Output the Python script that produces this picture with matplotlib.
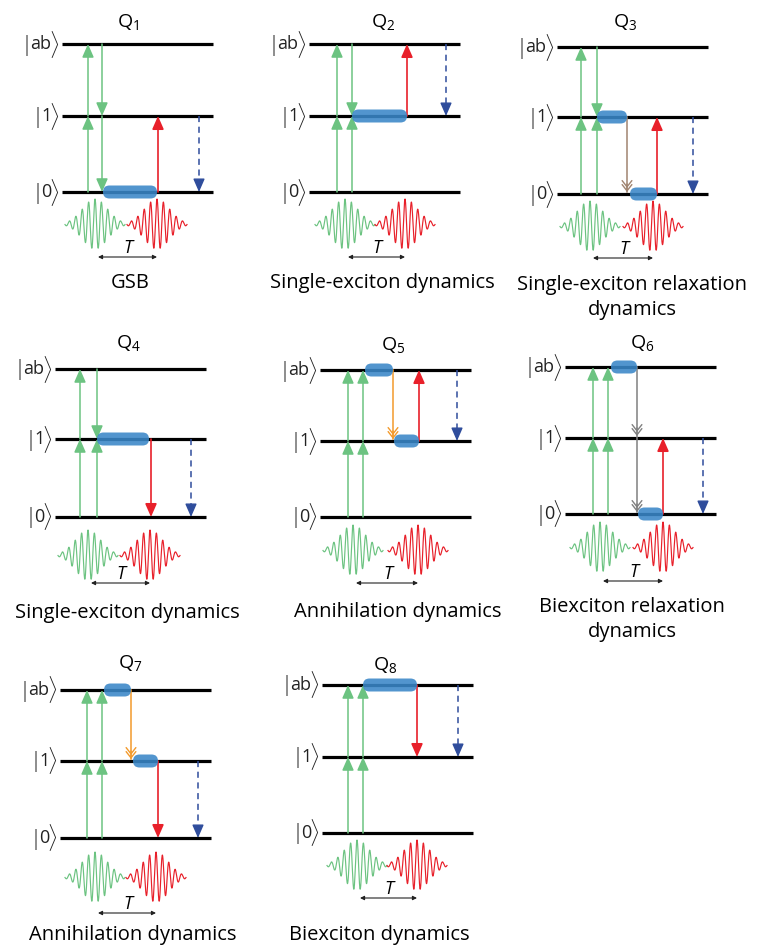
import numpy as np
import matplotlib
matplotlib.use('Agg')
import matplotlib.pyplot as plt
from matplotlib.patches import FancyArrowPatch, FancyBboxPatch, ArrowStyle

# ---------------- data ----------------
panel_names = ['1', '2', '3', '4', '5', '6', '7', '8']
level_names = ['ab', '1', '0']
level_labels = {'ab': 'ab', '1': '1', '0': '0'}

panel_x0 = [62, 309, 557, 55, 320, 565, 60, 322]
level_ab_y = [44, 44, 47, 369, 370, 367, 690, 685]
level_1_y = [116, 116, 117, 439, 441, 438, 761, 757]
level_0_y = [192, 192, 194, 517, 517, 514, 838, 833]
level_len = 151

title_x = [128, 383, 625, 128, 393, 642, 130, 385]
title_y = [22, 22, 22, 343, 345, 343, 663, 665]
pulse_y = [224, 224, 226, 555, 550, 547, 877, 865]
delay_y = [257, 257, 258, 583, 583, 581, 913, 898]
pump_dx = [33, 36, 33, 33, 33, 35, 35, 35]
probe_dx = [95, 96, 96, 95, 98, 98, 96, 95]

captions = [['GSB'], ['Single-exciton dynamics'],
            ['Single-exciton relaxation', 'dynamics'],
            ['Single-exciton dynamics'], ['Annihilation dynamics'],
            ['Biexciton relaxation', 'dynamics'],
            ['Annihilation dynamics'], ['Biexciton dynamics']]
caption_x = [130, 382, 632, 127, 398, 632, 133, 379]
caption_y = [283, 283, 285, 613, 612, 607, 935, 935]
caption_dy = 25

# pump (green) transitions: two vertical lines per panel
green_a_dx = [26, 28, 24, 25, 28, 28, 27, 26]
green_b_dx = [40, 43, 40, 42, 43, 43, 42, 41]
green_a = [[('0', '1'), ('1', 'ab')]] * 8
green_b = [[('ab', '1'), ('1', '0')],
           [('0', '1'), ('ab', '1')],
           [('0', '1'), ('ab', '1')],
           [('0', '1'), ('ab', '1')],
           [('0', '1'), ('1', 'ab')],
           [('0', '1'), ('1', 'ab')],
           [('0', '1'), ('1', 'ab')],
           [('0', '1'), ('1', 'ab')]]

# population (blue pills): (level, start dx, end dx)
pills = [[('0', 41, 95)],
         [('1', 43, 98)],
         [('1', 40, 70), ('0', 73, 100)],
         [('1', 42, 94)],
         [('ab', 45, 73), ('1', 74, 99)],
         [('ab', 46, 72), ('0', 73, 98)],
         [('ab', 44, 71), ('1', 73, 98)],
         [('ab', 41, 95)]]

# relaxation: (color, dx, from, to, chevron levels)
relax = [None, None,
         ('#a08470', 70, '1', '0', ['0']),
         None,
         ('#f39a2c', 73, 'ab', '1', ['1']),
         ('#808080', 72, 'ab', '0', ['1', '0']),
         ('#f39a2c', 71, 'ab', '1', ['1']),
         None]

# probe (red): (dx, from, to)
probe = [(96, '0', '1'), (98, '1', 'ab'), (100, '0', '1'), (96, '1', '0'),
         (99, '1', 'ab'), (98, '0', '1'), (98, '1', '0'), (95, 'ab', '1')]
# signal (blue dashed): (dx, from, to)
signal = [(137, '1', '0'), (137, 'ab', '1'), (136, '1', '0'), (136, '1', '0'),
          (137, 'ab', '1'), (138, '1', '0'), (138, '1', '0'), (136, 'ab', '1')]

# pulse shape parameters
pulse_halfwidth = 30
pulse_amp = 25
pulse_sigma = 12.5
pulse_period = 6.4

GREEN = '#6cc381'
RED = '#e8202a'
PILL = '#3a87c8'
DBLUE = '#2f4d9c'
LABEL_C = '#222222'

# ---------------- drawing ----------------
plt.rcParams['font.family'] = ['Open Sans', 'DejaVu Sans']
plt.rcParams['mathtext.fontset'] = 'custom'
plt.rcParams['mathtext.rm'] = 'Open Sans'
plt.rcParams['mathtext.it'] = 'Open Sans:italic'

fig = plt.figure(figsize=(7.57, 9.49), dpi=100)
ax = fig.add_axes([0, 0, 1, 1])
ax.set_xlim(0, 757)
ax.set_ylim(949, 0)
ax.axis('off')
renderer = fig.canvas.get_renderer()

head_style = ArrowStyle('-|>', head_length=0.8, head_width=0.35)
chev_style = ArrowStyle('->', head_length=0.45, head_width=0.35)


def arrow(x, y1, y2, color, lw=1.1, style=head_style, ms=10, z=3):
    a = FancyArrowPatch((x, y1), (x, y2), arrowstyle=style, mutation_scale=ms,
                        color=color, lw=lw, shrinkA=0, shrinkB=0, zorder=z)
    ax.add_patch(a)


def ket(xr, y, inner):
    t1 = ax.text(xr, y, r'$\rangle$', ha='right', va='center', fontsize=15.5,
                 color=LABEL_C)
    w1 = t1.get_window_extent(renderer).width
    t2 = ax.text(xr - w1 + 2.5, y, inner, ha='right', va='center', fontsize=13,
                 color=LABEL_C)
    w2 = t2.get_window_extent(renderer).width
    ax.text(xr - w1 - w2 + 4.5, y + 1, '|', ha='right', va='center',
            fontsize=16, color=LABEL_C, fontweight='light')


for i, name in enumerate(panel_names):
    x0 = panel_x0[i]
    ly = {'ab': level_ab_y[i], '1': level_1_y[i], '0': level_0_y[i]}
    # levels
    for ln in level_names:
        ax.plot([x0, x0 + level_len], [ly[ln], ly[ln]], color='black', lw=2.3,
                solid_capstyle='butt', zorder=2)
        ket(x0 - 3, ly[ln], level_labels[ln])
    # title
    ax.text(title_x[i], title_y[i], 'Q$_{' + name + '}$', ha='center',
            va='center', fontsize=14)
    # pump transitions
    for dx, segs in ((green_a_dx[i], green_a[i]), (green_b_dx[i], green_b[i])):
        for a, b in segs:
            arrow(x0 + dx, ly[a], ly[b], GREEN)
    # pills
    for ln, s, e in pills[i]:
        p = FancyBboxPatch((x0 + s, ly[ln] - 6.5), e - s, 13,
                           boxstyle='round,pad=0,rounding_size=6.5',
                           fc=PILL, ec='none', alpha=0.88, zorder=4)
        ax.add_patch(p)
    # relaxation
    if relax[i] is not None:
        col, dx, a, b, chev = relax[i]
        ax.plot([x0 + dx, x0 + dx], [ly[a], ly[b] - 2], color=col, lw=1.1, zorder=3)
        for c in chev:
            sgn = 1 if ly[c] > ly[a] else -1
            for off in (2, 6):
                arrow(x0 + dx, ly[c] - sgn * (off + 4), ly[c] - sgn * off, col,
                      lw=1.0, style=chev_style, ms=10)
    # probe
    dx, a, b = probe[i]
    arrow(x0 + dx, ly[a], ly[b], RED, lw=1.2)
    # signal (dashed)
    dx, a, b = signal[i]
    sgn = 1 if ly[b] > ly[a] else -1
    ax.plot([x0 + dx, x0 + dx], [ly[a], ly[b] - sgn * 7], color=DBLUE, lw=1.1,
            ls=(0, (4, 3)), zorder=3)
    arrow(x0 + dx, ly[b] - sgn * 8, ly[b], DBLUE, lw=1.0)
    # pulses
    t = np.linspace(-pulse_halfwidth, pulse_halfwidth, 600)
    env = np.exp(-0.5 * (t / pulse_sigma) ** 2)
    wave = -pulse_amp * env * np.cos(2 * np.pi * t / pulse_period)
    for cdx, col in ((pump_dx[i], GREEN), (probe_dx[i], RED)):
        ax.plot(x0 + cdx + t, pulse_y[i] + wave, color=col, lw=0.85, zorder=3)
    # delay arrow
    ax.annotate('', xy=(x0 + probe_dx[i], delay_y[i]),
                xytext=(x0 + pump_dx[i] + 3, delay_y[i]),
                arrowprops=dict(arrowstyle='<|-|>', color='#222222', lw=0.8,
                                mutation_scale=6, shrinkA=0, shrinkB=0))
    ax.text(x0 + (pump_dx[i] + probe_dx[i]) / 2 + 2, delay_y[i] - 9, 'T',
            style='italic', ha='center', va='center', fontsize=13)
    # captions
    for k, line in enumerate(captions[i]):
        ax.text(caption_x[i], caption_y[i] + k * caption_dy, line, ha='center',
                va='center', fontsize=14.5)

fig.savefig('out.png', dpi=100)
